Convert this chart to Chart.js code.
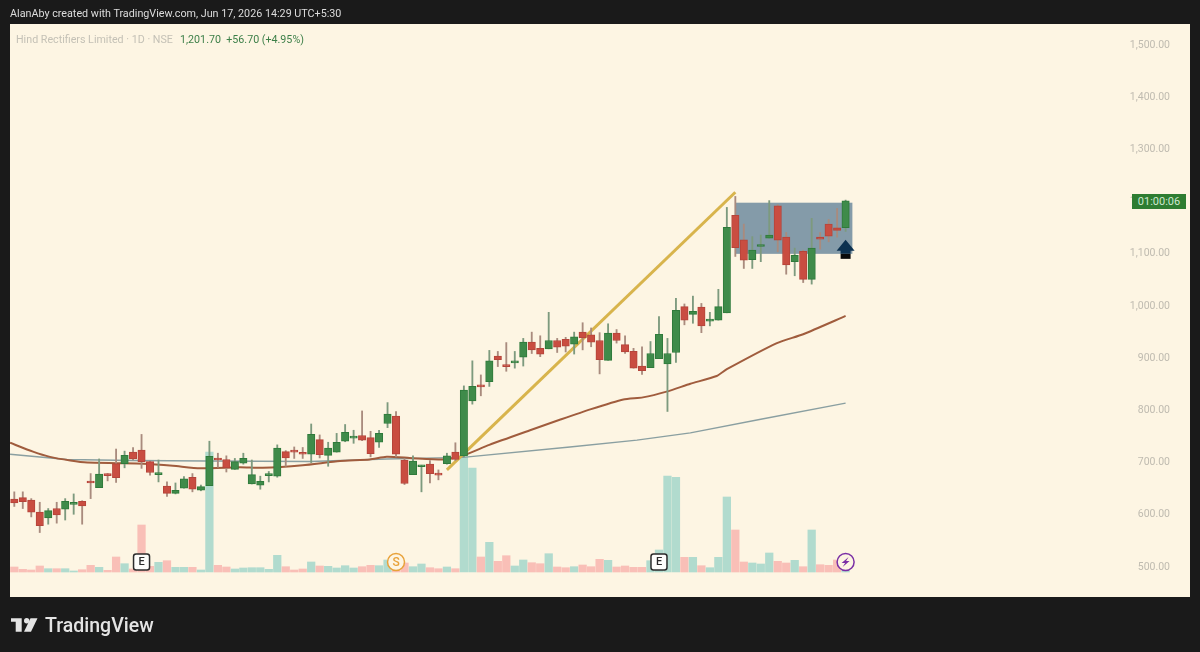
<!DOCTYPE html>
<html lang="en">
<head>
  <meta charset="UTF-8">
  <title>Hind Rectifiers Limited</title>
  <script src="https://cdn.jsdelivr.net/npm/chart.js"></script>
  <style>
    body {
      margin: 0;
      background: #1a1a1a;
      width: 1200px;
      height: 652px;
      overflow: hidden;
      position: relative;
      font-family: Roboto, sans-serif;
    }

    canvas {
      position: absolute;
      left: 0;
      top: 0;
    }

    .overlay {
      position: absolute;
      white-space: pre;
    }

    #credit {
      left: 10px;
      top: 7px;
      font-size: 10.75px;
      color: #dcdcdc;
    }

    #legendName {
      left: 16px;
      top: 33px;
      font-size: 10.7px;
      color: #c4c1b6;
    }

    #legendQuote {
      left: 180px;
      top: 33px;
      font-size: 10.7px;
      color: #3c7f48;
    }

    #countdown {
      left: 1132px;
      top: 194px;
      width: 54px;
      height: 15px;
      line-height: 15px;
      text-align: center;
      font-size: 11px;
      color: #cfe8d0;
      background: #2e7d32;
    }

    #brand {
      left: 45px;
      top: 614px;
      font-size: 19.5px;
      font-weight: 500;
      color: #e4e4e4;
    }

    #logo {
      position: absolute;
      left: 0;
      top: 600px;
    }
  </style>
</head>
<body>
  <canvas id="chart" width="1200" height="652"></canvas>
  <div class="overlay" id="credit">AlanAby created with TradingView.com, Jun 17, 2026 14:29 UTC+5:30</div>
  <div class="overlay" id="legendName">Hind Rectifiers Limited · 1D · NSE</div>
  <div class="overlay" id="legendQuote">1,201.70  +56.70 (+4.95%)</div>
  <div class="overlay" id="countdown">01:00:06</div>
  <svg id="logo" width="44" height="40">
    <path fill="#e4e4e4" d="M11 18.3h10.7v13.4h-6v-10h-4.7z"/>
    <circle fill="#e4e4e4" cx="26.7" cy="20.7" r="2.7"/>
    <path fill="#e4e4e4" d="M30.5 18.3h7l-6.5 13.4h-7z"/>
  </svg>
  <div class="overlay" id="brand">TradingView</div>

  <script>
    const opens = [
      630, 633, 628, 605, 594, 612, 611, 620, 626, 664,
      652, 678, 698, 698, 720, 724, 702, 677, 655, 641,
      651, 672, 647, 656, 706, 706, 687, 699, 659, 657,
      675, 674, 721, 721, 719, 716, 744, 714, 720, 741,
      747, 752, 748, 739, 775, 789, 705, 677, 692, 697,
      679, 698, 720, 713, 818, 847, 855, 904, 885, 891,
      902, 931, 919, 918, 934, 936, 927, 950, 945, 934,
      896, 948, 926, 913, 885, 882, 899, 889, 911, 999,
      984, 998, 971, 973, 987, 1174, 1127, 1089, 1114, 1130,
      1192, 1132, 1085, 1105, 1051, 1132, 1157, 1150, 1150
    ];
    const highs = [
      644, 644, 631, 624, 612, 624, 631, 640, 627, 679,
      707, 679, 726, 722, 729, 754, 703, 705, 663, 661,
      673, 679, 657, 741, 718, 713, 708, 718, 705, 674,
      683, 734, 723, 730, 729, 774, 753, 739, 756, 773,
      762, 799, 760, 762, 815, 798, 708, 713, 695, 704,
      686, 718, 738, 847, 895, 868, 915, 913, 930, 913,
      938, 950, 943, 988, 938, 940, 950, 968, 958, 949,
      966, 955, 943, 919, 922, 932, 980, 938, 1015, 1004,
      1019, 1005, 988, 1032, 1189, 1210, 1157, 1133, 1136, 1202,
      1194, 1141, 1111, 1107, 1168, 1141, 1166, 1187, 1203
    ];
    const lows = [
      616, 612, 596, 566, 582, 584, 590, 601, 582, 631,
      652, 665, 662, 690, 705, 689, 676, 663, 635, 640,
      651, 644, 646, 656, 691, 682, 687, 697, 659, 649,
      663, 672, 693, 708, 708, 700, 709, 693, 720, 740,
      737, 742, 711, 729, 767, 711, 658, 677, 644, 661,
      667, 697, 704, 711, 812, 828, 846, 884, 875, 881,
      885, 909, 903, 918, 911, 912, 908, 916, 922, 870,
      896, 929, 909, 881, 869, 882, 899, 798, 892, 964,
      967, 949, 962, 973, 987, 1095, 1072, 1072, 1085, 1130,
      1104, 1061, 1058, 1045, 1042, 1109, 1123, 1132, 1143
    ];
    const closes = [
      623, 625, 605, 579, 608, 600, 626, 621, 617, 661,
      678, 675, 671, 714, 707, 702, 681, 679, 641, 647,
      669, 649, 654, 712, 705, 690, 702, 708, 677, 664,
      678, 728, 709, 720, 716, 754, 715, 728, 739, 758,
      749, 743, 717, 756, 793, 716, 660, 703, 693, 679,
      676, 713, 706, 839, 846, 845, 895, 897, 884, 893,
      931, 916, 908, 934, 921, 923, 941, 939, 931, 897,
      948, 934, 912, 881, 876, 909, 946, 909, 992, 973,
      990, 962, 973, 999, 1151, 1112, 1088, 1107, 1116, 1136,
      1126, 1079, 1097, 1051, 1111, 1128, 1134, 1145, 1201.7
    ];
    const volumes = [
      5, 2.7, 2, 6, 3.3, 3.3, 3.3, 1, 2.3, 6.7,
      4.7, 1.7, 15, 8.3, 3, 47, 5.7, 9.7, 11.3, 4.7,
      4.7, 4.7, 2, 120, 6.7, 5, 3, 4, 4.3, 4.3,
      2.7, 16.7, 5.3, 2, 3, 10, 6, 5.7, 4, 6.3,
      4, 5.3, 6.7, 6.3, 12, 8, 9, 5.3, 8, 4.3,
      3.3, 5, 3.3, 115, 104, 15, 29.7, 10.7, 16.3, 6,
      12, 9.3, 8.3, 18.3, 5, 4.3, 5.3, 7, 5.3, 12.7,
      11.7, 5, 6, 4.7, 4.7, 11.3, 22, 96, 94.7, 14.7,
      14.7, 6.3, 4.3, 14.7, 75, 42, 10, 9, 8, 19,
      10.7, 9, 11.7, 5.3, 42, 7.3, 6.7, 12, 4
    ];

    // Moving averages, read at the bars where the curve bends
    const fastMaBars = [-0.5, 2.2, 4.2, 6.6, 8.6, 12.1, 15.2, 18.7, 21.9, 26.6, 29.3, 34, 38.4, 41.9, 43.9, 46.6, 50.5, 52.5, 56, 60.8, 64.3, 67.9, 71.8, 74.1, 76.9, 79.7, 82.8, 84, 89.9, 93, 98];
    const fastMaValues = [738, 721, 711, 704, 700, 699, 698, 694, 689, 691, 690, 695, 703, 706, 711, 709, 706, 711, 734, 762, 782, 802, 821, 825, 836, 851, 866, 879, 929, 946, 981];
    const slowMaBars = [-0.5, 6.2, 14, 22.7, 34.9, 43.9, 52.9, 65.5, 73.4, 79.7, 88, 98];
    const slowMaValues = [716, 706, 704, 703, 702, 707, 710, 730, 743, 757, 783, 814];

    // Drawings on the chart
    const trendBars = [51, 85];
    const trendPrices = [686, 1218];
    const zoneBars = [85, 98.8];
    const zonePrices = [1100, 1198];
    const arrowBar = 98;
    const arrowPrice = 1100;

    const priceTicks = [500, 600, 700, 800, 900, 1000, 1100, 1200, 1300, 1400, 1500];
    const monthBars = [7, 28, 47, 67, 86, 107, 127];
    const monthNames = ['Feb', 'Mar', 'Apr', 'May', 'Jun', 'Jul', 'Aug'];

    const eventBars = [15, 45, 76, 98];
    const eventKinds = ['E', 'S', 'E', 'bolt'];

    const isUp = i => closes[i] >= opens[i];

    const toPoints = (xs, ys) => xs.map((x, i) => ({ x: x, y: ys[i] }));

    const chartPlugin = {
      id: 'chartExtras',
      beforeDraw(chart) {
        const { ctx, chartArea } = chart;
        ctx.save();
        ctx.fillStyle = '#fdf5e3';
        ctx.fillRect(chartArea.left, chartArea.top, chartArea.width, chartArea.height);
        ctx.restore();
      },
      beforeDatasetsDraw(chart) {
        const { ctx, scales } = chart;
        const left = scales.x.getPixelForValue(zoneBars[0]);
        const right = scales.x.getPixelForValue(zoneBars[1]);
        const top = scales.y.getPixelForValue(zonePrices[1]);
        const bottom = scales.y.getPixelForValue(zonePrices[0]);
        ctx.save();
        ctx.fillStyle = '#849ba9';
        ctx.fillRect(left, top, right - left, bottom - top);
        ctx.restore();
      },
      afterDatasetsDraw(chart) {
        const { ctx, scales, chartArea } = chart;

        // Up arrow
        const ax = scales.x.getPixelForValue(arrowBar);
        const ay = scales.y.getPixelForValue(arrowPrice);
        ctx.save();
        ctx.fillStyle = '#0c3150';
        ctx.beginPath();
        ctx.moveTo(ax, ay - 14);
        ctx.lineTo(ax + 9, ay - 3);
        ctx.lineTo(ax + 5, ay - 3);
        ctx.lineTo(ax + 5, ay);
        ctx.lineTo(ax - 5, ay);
        ctx.lineTo(ax - 5, ay - 3);
        ctx.lineTo(ax - 9, ay - 3);
        ctx.closePath();
        ctx.fill();
        ctx.fillStyle = '#0a0a0a';
        ctx.fillRect(ax - 5, ay, 10, 5);

        // Event badges above the volume
        const ey = chartArea.bottom - 35;
        eventBars.forEach((bar, i) => {
          const ex = scales.x.getPixelForValue(bar);
          ctx.textAlign = 'center';
          ctx.textBaseline = 'middle';
          if (eventKinds[i] === 'E') {
            ctx.fillStyle = '#fdfdfb';
            ctx.strokeStyle = '#2b2b2b';
            ctx.lineWidth = 1.5;
            ctx.beginPath();
            ctx.roundRect(ex - 8, ey - 8, 16, 16, 2.5);
            ctx.fill();
            ctx.stroke();
            ctx.fillStyle = '#2b2b2b';
            ctx.font = '500 11px Roboto';
            ctx.fillText('E', ex, ey + 0.5);
          } else if (eventKinds[i] === 'S') {
            ctx.fillStyle = '#fdf5e3';
            ctx.strokeStyle = '#e8a23a';
            ctx.lineWidth = 1.5;
            ctx.beginPath();
            ctx.arc(ex, ey, 8.5, 0, Math.PI * 2);
            ctx.fill();
            ctx.stroke();
            ctx.fillStyle = '#e8a23a';
            ctx.font = '500 12px Roboto';
            ctx.fillText('S', ex, ey + 0.5);
          } else {
            ctx.fillStyle = '#fdf5e3';
            ctx.strokeStyle = '#7b2fa5';
            ctx.lineWidth = 1.5;
            ctx.beginPath();
            ctx.arc(ex, ey, 8.5, 0, Math.PI * 2);
            ctx.fill();
            ctx.stroke();
            ctx.fillStyle = '#7b2fa5';
            ctx.beginPath();
            ctx.moveTo(ex + 3, ey - 5);
            ctx.lineTo(ex - 4, ey + 1);
            ctx.lineTo(ex - 0.5, ey + 1);
            ctx.lineTo(ex - 3, ey + 5);
            ctx.lineTo(ex + 4, ey - 1);
            ctx.lineTo(ex + 0.5, ey - 1);
            ctx.closePath();
            ctx.fill();
          }
        });
        ctx.restore();
      }
    };

    Chart.defaults.font.family = 'Roboto, sans-serif';

    new Chart(document.getElementById('chart').getContext('2d'), {
      type: 'bar',
      data: {
        datasets: [
          {
            label: 'Volume',
            yAxisID: 'volume',
            data: toPoints(volumes.map((v, i) => i), volumes),
            backgroundColor: volumes.map((v, i) => isUp(i) ? '#b1dbce' : '#f9bfb7'),
            barThickness: 7.6,
            grouped: false,
            order: 6
          },
          {
            type: 'line',
            label: 'Slow MA',
            data: toPoints(slowMaBars, slowMaValues),
            borderColor: '#8a9fa1',
            borderWidth: 1.4,
            pointRadius: 0,
            order: 5
          },
          {
            type: 'line',
            label: 'Fast MA',
            data: toPoints(fastMaBars, fastMaValues),
            borderColor: '#a05c3d',
            borderWidth: 2,
            pointRadius: 0,
            tension: 0.2,
            order: 4
          },
          {
            type: 'line',
            label: 'Trend',
            data: toPoints(trendBars, trendPrices),
            borderColor: '#d8b44c',
            borderWidth: 3,
            pointRadius: 0,
            order: 3
          },
          {
            label: 'Wick',
            data: lows.map((low, i) => ({ x: i, y: [low, highs[i]] })),
            backgroundColor: lows.map((low, i) => isUp(i) ? '#7d9a7e' : '#a98b7e'),
            barThickness: 1.2,
            grouped: false,
            order: 2
          },
          {
            label: 'Body',
            data: opens.map((open, i) => ({ x: i, y: [open, closes[i]] })),
            backgroundColor: opens.map((open, i) => isUp(i) ? '#3f8b4a' : '#c94d41'),
            borderColor: opens.map((open, i) => isUp(i) ? '#2f7a3b' : '#b5443a'),
            borderWidth: 1,
            borderSkipped: false,
            barThickness: 7.4,
            minBarLength: 2,
            grouped: false,
            order: 1
          }
        ]
      },
      options: {
        responsive: false,
        animation: false,
        events: [],
        layout: {
          padding: { left: 10, right: 10, top: 24, bottom: 55 }
        },
        plugins: {
          legend: { display: false },
          tooltip: { enabled: false }
        },
        scales: {
          x: {
            type: 'linear',
            min: -0.507,
            max: 138.6,
            offset: false,
            grid: { display: false, drawTicks: false },
            border: { display: false },
            afterFit(scale) {
              scale.height = 0;
              scale.paddingLeft = 0;
              scale.paddingRight = 0;
            },
            afterBuildTicks(scale) { scale.ticks = monthBars.map(v => ({ value: v })); },
            ticks: {
              autoSkip: false,
              maxRotation: 0,
              padding: -16,
              color: '#bdb9ae',
              font: { size: 10.7, weight: '500' },
              callback: (value, index) => monthNames[index]
            }
          },
          y: {
            type: 'linear',
            position: 'right',
            min: 442.5,
            max: 1540.4,
            grid: { display: false, drawTicks: false },
            border: { display: false },
            afterFit(scale) {
              scale.width = 0;
              scale.paddingTop = 0;
              scale.paddingBottom = 0;
            },
            afterBuildTicks(scale) { scale.ticks = priceTicks.map(v => ({ value: v })); },
            ticks: {
              mirror: true,
              padding: -20,
              color: '#bfbbb0',
              font: { size: 10.5 },
              callback: value => value.toLocaleString('en-US', { minimumFractionDigits: 2 })
            }
          },
          volume: {
            type: 'linear',
            display: false,
            min: -25,
            max: 548
          }
        }
      },
      plugins: [chartPlugin]
    });
  </script>
</body>
</html>
